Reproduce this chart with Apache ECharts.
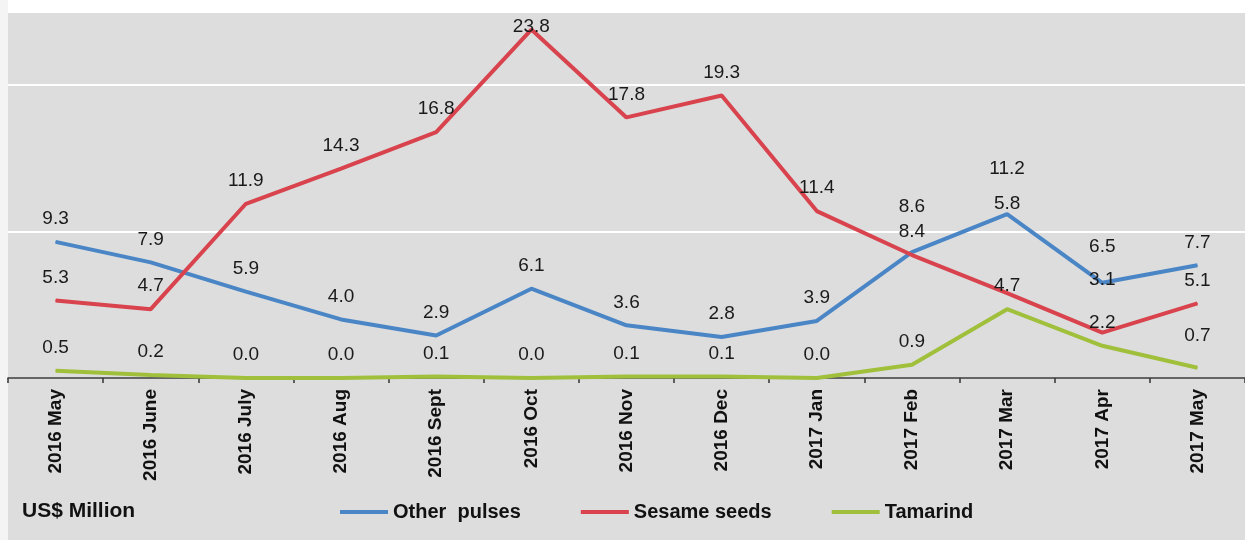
<!DOCTYPE html>
<html>
<head>
<meta charset="utf-8">
<script src="https://cdn.jsdelivr.net/npm/echarts@6/dist/echarts.min.js"></script>
<style>
  html, body { margin: 0; padding: 0; background: #fff; }
  #line { width: 1245px; height: 540px; }
</style>
</head>
<body>
<div id="line"></div>
<script>
var months = ['2016 May', '2016 June', '2016 July', '2016 Aug', '2016 Sept', '2016 Oct',
    '2016 Nov', '2016 Dec', '2017 Jan', '2017 Feb', '2017 Mar', '2017 Apr', '2017 May'];
var otherPulses = [9.3, 7.9, 5.9, 4.0, 2.9, 6.1, 3.6, 2.8, 3.9, 8.6, 11.2, 6.5, 7.7];
var sesameSeeds = [5.3, 4.7, 11.9, 14.3, 16.8, 23.8, 17.8, 19.3, 11.4, 8.4, 5.8, 3.1, 5.1];
var tamarind = [0.5, 0.2, 0.0, 0.0, 0.1, 0.0, 0.1, 0.1, 0.0, 0.9, 4.7, 2.2, 0.7];

// labels that were nudged in the original to avoid overlapping (extra px upward)
var labelLift = {
    'Other  pulses': { 9: 22, 10: 22, 11: 13 },
    'Sesame seeds': { 5: -20, 10: 66, 11: 30 },
    'Tamarind': { 12: 9 }
};

var FONT = '"Liberation Sans", Arial, sans-serif';

function makeSeries(name, values, color) {
    var lift = labelLift[name] || {};
    return {
        name: name,
        type: 'line',
        symbol: 'circle',
        symbolSize: 1,
        showSymbol: true,
        data: values.map(function (v, i) {
            var item = { value: v };
            if (lift[i]) {
                item.label = { offset: [0, -lift[i]] };
            }
            return item;
        }),
        lineStyle: { color: color, width: 4 },
        itemStyle: { color: color },
        label: {
            show: true,
            position: 'top',
            distance: 13,
            color: '#1a1a1a',
            fontSize: 19,
            fontFamily: FONT,
            formatter: function (p) {
                return Number(p.value).toFixed(1);
            }
        },
        animation: false
    };
}

var myChart = echarts.init(document.getElementById('line'));

var option = {
    backgroundColor: '#dddddd',
    animation: false,
    graphic: [
        { type: 'rect', z: -10, shape: { x: 0, y: 0, width: 1245, height: 12 }, style: { fill: '#ffffff' } },
        { type: 'rect', z: -10, shape: { x: 0, y: 0, width: 8, height: 540 }, style: { fill: '#f4f4f4' } }
    ],
    title: {
        text: 'US$ Million',
        left: 17,
        top: 496,
        textStyle: {
            color: '#111',
            fontSize: 21,
            fontWeight: 'bold',
            fontFamily: FONT
        }
    },
    legend: {
        data: ['Other  pulses', 'Sesame seeds', 'Tamarind'],
        left: 335,
        top: 497,
        icon: 'rect',
        itemWidth: 48,
        itemHeight: 4,
        itemGap: 60,
        textStyle: {
            color: '#111',
            fontSize: 20,
            fontWeight: 'bold',
            fontFamily: FONT
        }
    },
    grid: {
        left: 8,
        right: 0,
        top: 12,
        bottom: 162
    },
    xAxis: {
        type: 'category',
        data: months,
        boundaryGap: true,
        axisLine: { lineStyle: { color: '#333', width: 1.5 } },
        axisTick: { show: true, length: 5, lineStyle: { color: '#333', width: 1.5 } },
        axisLabel: {
            interval: 0,
            rotate: 90,
            margin: 11,
            color: '#111',
            fontSize: 19,
            fontWeight: 'bold',
            fontFamily: FONT
        },
        splitLine: { show: false }
    },
    yAxis: {
        type: 'value',
        min: 0,
        max: 25,
        interval: 10,
        axisLine: { show: false },
        axisTick: { show: false },
        axisLabel: { show: false },
        splitLine: { show: true, lineStyle: { color: '#ffffff', width: 2 } }
    },
    series: [
        makeSeries('Other  pulses', otherPulses, '#4a86c6'),
        makeSeries('Sesame seeds', sesameSeeds, '#d8434d'),
        makeSeries('Tamarind', tamarind, '#a0c03c')
    ]
};

myChart.setOption(option);
</script>
</body>
</html>
